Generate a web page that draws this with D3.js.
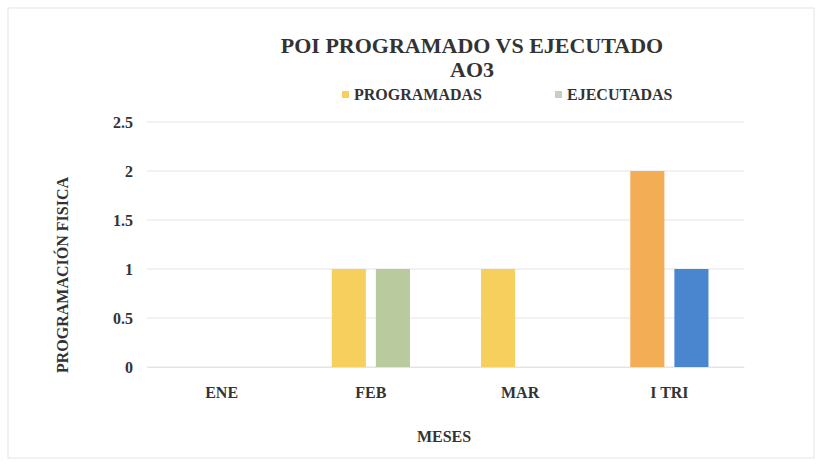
<!DOCTYPE html>
<html><head><meta charset="utf-8">
<script src="https://cdn.jsdelivr.net/npm/d3@7/dist/d3.min.js"></script>
<style>body{margin:0;background:#fff}svg{display:block}</style>
</head><body><svg id="c" width="822" height="464" font-family="Liberation Serif" font-weight="bold"></svg>
<script>
const categories = ["ENE", "FEB", "MAR", "I TRI"];
const programadas = [0, 1, 1, 2];
const ejecutadas = [0, 1, 0, 1];
const seriesNames = ["PROGRAMADAS", "EJECUTADAS"];
const yTicks = [0, 0.5, 1, 1.5, 2, 2.5];

const progColors = ["#f6cf5c", "#f6cf5c", "#f6cf5c", "#f3ad55"];
const ejecColors = ["#b9ca9f", "#b9ca9f", "#b9ca9f", "#4a86d0"];

const svg = d3.select("#c");
function styleText(sel, size) {
  sel.attr("font-family", "Liberation Serif").attr("font-weight", "bold")
     .attr("font-size", size).attr("fill", "#333");
}
svg.append("rect").attr("x", 8).attr("y", 8).attr("width", 806).attr("height", 450)
  .attr("fill", "#fff").attr("stroke", "#e4e4e4");

const m = {l: 147, r: 744, t: 122, b: 367};
const x = d3.scaleBand().domain(categories).range([m.l, m.r]);
const xs = d3.scaleBand().domain(seriesNames).range([0, x.bandwidth()]).paddingInner(0.227).paddingOuter(0.806);
const y = d3.scaleLinear().domain([0, 2.5]).range([m.b, m.t]);

// gridlines
svg.append("g").selectAll("line").data(yTicks).join("line")
  .attr("x1", m.l).attr("x2", m.r).attr("y1", d => y(d)).attr("y2", d => y(d))
  .attr("stroke", "#e4e4e4").attr("stroke-width", 1);

// y axis
const ya = svg.append("g").attr("transform", `translate(${m.l},0)`)
  .call(d3.axisLeft(y).tickValues(yTicks).tickSize(0).tickPadding(14).tickFormat(d => String(d)));
ya.attr("font-family", "Liberation Serif").attr("font-size", 16);
ya.select(".domain").remove();
styleText(ya.selectAll("text"), 16);

// x axis
const xa = svg.append("g").attr("transform", `translate(0,${m.b})`)
  .call(d3.axisBottom(x).tickSize(0).tickPadding(20));
xa.attr("font-family", "Liberation Serif").attr("font-size", 16);
xa.select(".domain").attr("stroke", "#e4e4e4");
styleText(xa.selectAll("text"), 16);

// bars
const g = svg.append("g");
categories.forEach((c, i) => {
  const vals = [programadas[i], ejecutadas[i]];
  const cols = [progColors[i], ejecColors[i]];
  seriesNames.forEach((s, j) => {
    if (vals[j] <= 0) return;
    g.append("rect").attr("x", x(c) + xs(s)).attr("width", xs.bandwidth())
      .attr("y", y(vals[j])).attr("height", y(0) - y(vals[j])).attr("fill", cols[j]);
  });
});

// titles
styleText(svg.append("text").attr("x", 472).attr("y", 53).attr("text-anchor", "middle").text("POI PROGRAMADO VS EJECUTADO"), 22);
styleText(svg.append("text").attr("x", 472).attr("y", 77).attr("text-anchor", "middle").text("AO3"), 22);

// legend
const leg = [{n: seriesNames[0], c: "#f6cf5c", x: 342}, {n: seriesNames[1], c: "#c9cfc0", x: 555}];
leg.forEach(d => {
  svg.append("rect").attr("x", d.x).attr("y", 91).attr("width", 7).attr("height", 7).attr("fill", d.c);
  styleText(svg.append("text").attr("x", d.x + 12).attr("y", 100).text(d.n), 16);
});

// axis titles
styleText(svg.append("text").attr("transform", "translate(68,275) rotate(-90)").attr("text-anchor", "middle").text("PROGRAMACIÓN FISICA"), 16);
styleText(svg.append("text").attr("x", 444).attr("y", 442).attr("text-anchor", "middle").text("MESES"), 16);
</script></body></html>
